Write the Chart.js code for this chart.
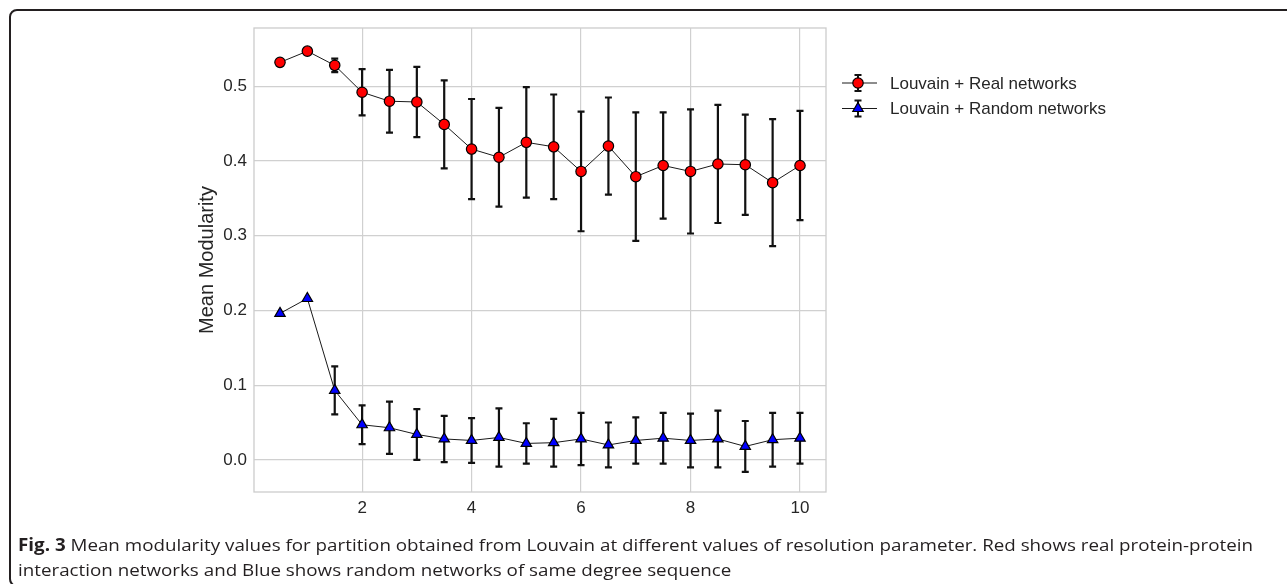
<!DOCTYPE html>
<html>
<head>
<meta charset="utf-8">
<title>Mean modularity vs resolution</title>
<script src="https://cdn.jsdelivr.net/npm/chart.js@4.4.0/dist/chart.umd.min.js"></script>
<style>
  html, body { margin: 0; padding: 0; background: #fff; overflow: hidden; }
  body { width: 1287px; height: 584px; position: relative; }
  #frame {
    position: absolute; left: 9px; top: 9px; width: 1320px; height: 578px;
    border: 2px solid #231f20; border-radius: 8px; box-sizing: border-box;
  }
  #chartBox { position: absolute; left: 0; top: 0; width: 1287px; height: 584px; }
  #caption {
    position: absolute; left: 18px; top: 532px;
    font-family: "Open Sans", "Noto Sans", sans-serif; font-size: 17px; line-height: 25px;
    color: #231f20; white-space: nowrap; transform-origin: 0 0;
  }
  #caption b { font-weight: 700; }
</style>
</head>
<body>
<div id="frame"></div>
<div id="chartBox"><canvas id="modCanvas" width="1287" height="584"></canvas></div>
<div id="caption">
  <span id="capLine1"><b>Fig. 3</b> Mean modularity values for partition obtained from Louvain at different values of resolution parameter. Red shows real protein-protein</span><br>
  <span>interaction networks and Blue shows random networks of same degree sequence</span>
</div>
<script>
// resolution parameter values
const resolution = [0.5, 1, 1.5, 2, 2.5, 3, 3.5, 4, 4.5, 5, 5.5, 6, 6.5, 7, 7.5, 8, 8.5, 9, 9.5, 10];

// Louvain on real PPI networks: mean modularity and error (std)
const realMean = [0.532, 0.547, 0.528, 0.492, 0.480, 0.479, 0.449, 0.416, 0.405, 0.425, 0.419,
                  0.386, 0.420, 0.379, 0.394, 0.386, 0.396, 0.395, 0.371, 0.394];
const realErr  = [0, 0, 0.009, 0.031, 0.042, 0.047, 0.059, 0.067, 0.066, 0.074, 0.070,
                  0.080, 0.065, 0.086, 0.071, 0.083, 0.079, 0.067, 0.085, 0.073];

// Louvain on random networks with the same degree sequence
const randomMean = [0.196, 0.216, 0.093, 0.047, 0.043, 0.034, 0.028, 0.026, 0.030, 0.022, 0.023,
                    0.028, 0.020, 0.026, 0.029, 0.026, 0.028, 0.018, 0.027, 0.029];
const randomErr  = [0, 0, 0.032, 0.026, 0.035, 0.034, 0.031, 0.030, 0.039, 0.027, 0.032,
                    0.035, 0.030, 0.031, 0.034, 0.036, 0.038, 0.034, 0.036, 0.034];

const xTicks = [2, 4, 6, 8, 10];
const yTicks = [0.0, 0.1, 0.2, 0.3, 0.4, 0.5];

const seriesLabels = ['Louvain + Real networks', 'Louvain + Random networks'];
const seriesColors = ['#ff0000', '#0000ff'];
const seriesStyles = ['circle', 'triangle'];
const seriesErr = [realErr, randomErr];
const seriesMean = [realMean, randomMean];

const labelColor = '#262626';
const gridColor = '#d0d0d0';
const tickFont = { family: 'Liberation Sans, Arial, sans-serif', size: 17 };

function toPoints(values)
{
  return resolution.map((x, i) => ({ x: x, y: values[i] }));
}

// vertical error bar with caps
function drawErrorBar(ctx, x, yTop, yBottom)
{
  const cap = 3.5;
  ctx.beginPath();
  ctx.moveTo(x, yTop);
  ctx.lineTo(x, yBottom);
  ctx.moveTo(x - cap, yTop);
  ctx.lineTo(x + cap, yTop);
  ctx.moveTo(x - cap, yBottom);
  ctx.lineTo(x + cap, yBottom);
  ctx.stroke();
}

const errorBarPlugin = {
  id: 'errorBars',
  beforeDatasetsDraw(chart)
  {
    const ctx = chart.ctx;
    const xs = chart.scales.x;
    const ys = chart.scales.y;
    const area = chart.chartArea;

    // plot frame
    ctx.save();
    ctx.strokeStyle = '#cccccc';
    ctx.lineWidth = 1.3;
    ctx.strokeRect(area.left, area.top, area.right - area.left, area.bottom - area.top);
    ctx.restore();

    ctx.save();
    ctx.strokeStyle = '#111111';
    ctx.lineWidth = 2.2;
    for (let s = 0; s < seriesMean.length; s++)
    {
      for (let i = 0; i < resolution.length; i++)
      {
        const err = seriesErr[s][i];
        if (!err) continue;
        const px = xs.getPixelForValue(resolution[i]);
        drawErrorBar(ctx, px, ys.getPixelForValue(seriesMean[s][i] + err), ys.getPixelForValue(seriesMean[s][i] - err));
      }
    }
    ctx.restore();
  }
};

const legendPlugin = {
  id: 'sideLegend',
  afterDraw(chart)
  {
    const ctx = chart.ctx;
    const left = 842, width = 35, textX = 890;
    const rows = [83, 108.5];
    ctx.save();
    for (let s = 0; s < seriesLabels.length; s++)
    {
      const y = rows[s];
      const cx = left + width / 2 - 1.5;
      ctx.strokeStyle = '#1a1a1a';
      ctx.lineWidth = 1;
      ctx.beginPath();
      ctx.moveTo(left, y);
      ctx.lineTo(left + width, y);
      ctx.stroke();
      ctx.strokeStyle = '#111111';
      ctx.lineWidth = 2;
      drawErrorBar(ctx, cx, y - 8, y + 8);
      ctx.fillStyle = seriesColors[s];
      ctx.strokeStyle = '#000000';
      ctx.lineWidth = 1.2;
      Chart.helpers.drawPoint(ctx, { pointStyle: seriesStyles[s], radius: s == 0 ? 5.2 : 6, borderWidth: 1.2 }, cx, y);
      ctx.fillStyle = labelColor;
      ctx.font = '17px ' + tickFont.family;
      ctx.textBaseline = 'middle';
      ctx.fillText(seriesLabels[s], textX, y + 1);
    }
    ctx.restore();
  }
};

const datasets = seriesLabels.map((label, s) => ({
  label: label,
  data: toPoints(seriesMean[s]),
  showLine: true,
  borderColor: '#1a1a1a',
  borderWidth: 1,
  pointStyle: seriesStyles[s],
  pointRadius: s == 0 ? 5.2 : 6,
  pointBackgroundColor: seriesColors[s],
  pointBorderColor: '#000000',
  pointBorderWidth: 1.2
}));

new Chart(document.getElementById('modCanvas'), {
  type: 'scatter',
  data: { datasets: datasets },
  options: {
    responsive: false,
    animation: false,
    layout: { padding: { left: 0, right: 461, top: 28, bottom: 0 } },
    plugins: { legend: { display: false }, tooltip: { enabled: false } },
    scales: {
      x: {
        type: 'linear',
        min: 0.025,
        max: 10.475,
        afterBuildTicks: (scale) => { scale.ticks = xTicks.map(v => ({ value: v })); },
        afterFit: (scale) => { scale.height = 92; },
        ticks: { color: labelColor, font: tickFont, padding: 6, callback: (v) => String(v) },
        grid: { color: gridColor, lineWidth: 1.2, drawTicks: false },
        border: { display: false }
      },
      y: {
        min: -0.043,
        max: 0.578,
        afterBuildTicks: (scale) => { scale.ticks = yTicks.map(v => ({ value: v })); },
        afterFit: (scale) => { scale.width = 254; },
        ticks: { color: labelColor, font: tickFont, padding: 7, callback: (v) => v.toFixed(1) },
        grid: { color: gridColor, lineWidth: 1.2, drawTicks: false },
        border: { display: false },
        title: {
          display: true,
          text: 'Mean Modularity',
          color: labelColor,
          font: { family: tickFont.family, size: 20 },
          padding: { top: 195, bottom: 0 }
        }
      }
    }
  },
  plugins: [errorBarPlugin, legendPlugin]
});

// stretch the caption so its first line spans the figure width
const line1 = document.getElementById('capLine1');
const scaleX = 1235 / line1.getBoundingClientRect().width;
document.getElementById('caption').style.transform = 'scaleX(' + scaleX.toFixed(4) + ')';
</script>
</body>
</html>
